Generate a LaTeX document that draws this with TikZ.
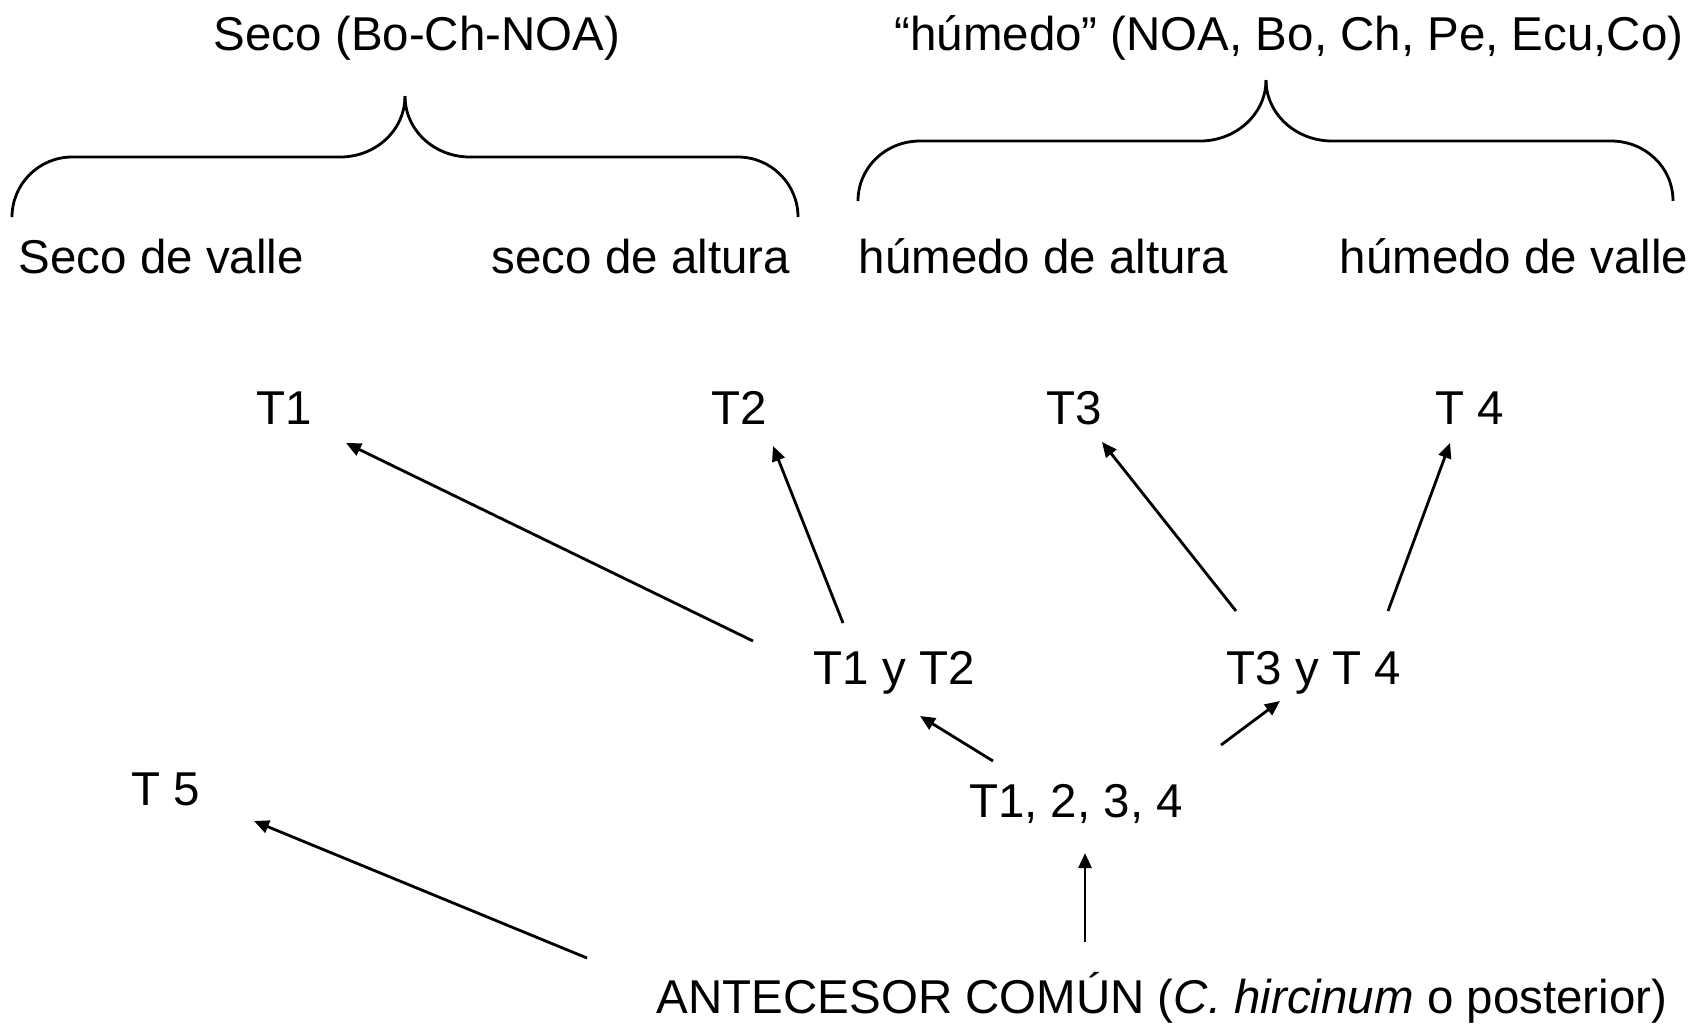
\documentclass[tikz,border=0pt]{standalone}
\usepackage{fontspec}
\setmainfont{Liberation Sans}
\usetikzlibrary{arrows.meta}
\begin{document}
\begin{tikzpicture}[x=0.01cm,y=-0.01cm,
  lbl/.style={font=\fontsize{13.5pt}{16pt}\selectfont, inner sep=0pt, anchor=base},
  lblw/.style={lbl, anchor=base west},
  arr/.style={line width=0.8pt, -{Triangle[length=0.15cm,width=0.13cm]}},
  bracepath/.style={line width=0.8pt, line join=round, line cap=butt}]
\useasboundingbox (0,0) rectangle (1704,1023);
% top labels
\node[lbl] (seco) at (417,50) {Seco (Bo-Ch-NOA)};
\node[lbl] (hum) at (1289,50) {“húmedo” (NOA, Bo, Ch, Pe, Ecu,Co)};
% braces
\draw[bracepath] (12,217) .. controls (12,184) and (39,157) .. (72,157) -- (340,157)
  .. controls (376,157) and (405,130) .. (405,96);
\draw[bracepath] (405,96) .. controls (405,130) and (434,157) .. (470,157) -- (738,157)
  .. controls (771,157) and (798,184) .. (798,217);
\draw[bracepath] (858,201) .. controls (858,167) and (886,141) .. (920,141) -- (1200,141)
  .. controls (1236,141) and (1266,114) .. (1266,80);
\draw[bracepath] (1266,80) .. controls (1266,114) and (1296,141) .. (1332,141) -- (1611,141)
  .. controls (1645,141) and (1673,167) .. (1673,201);
% second row labels
\node[lblw] (sv) at (18,273) {Seco de valle};
\node[lblw] (sa) at (491,273) {seco de altura};
\node[lblw] (ha) at (858,273) {húmedo de altura};
\node[lblw] (hv) at (1339,273) {húmedo de valle};
% tree nodes
\node[lbl] (t1) at (284,424) {T1};
\node[lbl] (t2) at (739,424) {T2};
\node[lbl] (t3) at (1074,424) {T3};
\node[lbl] (t4) at (1470,424) {T 4};
\node[lbl] (t12) at (894,684) {T1 y T2};
\node[lbl] (t34) at (1314,684) {T3 y T 4};
\node[lbl] (t1234) at (1076,817) {T1, 2, 3, 4};
\node[lbl] (t5) at (166,805) {T 5};
\node[lbl] (anc) at (1162,1013) {ANTECESOR COMÚN (\textit{C. hircinum} o posterior)};
% arrows
\draw[arr] ([shift={(-141,-43)}]t12.base) -- ([shift={(62,19)}]t1.base);
\draw[arr] ([shift={(-51,-61)}]t12.base) -- ([shift={(34,22)}]t2.base);
\draw[arr] ([shift={(-78,-73)}]t34.base) -- ([shift={(28,18)}]t3.base);
\draw[arr] ([shift={(74,-73)}]t34.base) -- ([shift={(-20,19)}]t4.base);
\draw[arr] ([shift={(-83,-56)}]t1234.base) -- ([shift={(26,32)}]t12.base);
\draw[arr] ([shift={(145,-72)}]t1234.base) -- ([shift={(-34,17)}]t34.base);
\draw[arr] ([shift={(-77,-71)}]anc.base) -- ([shift={(9,36)}]t1234.base);
\draw[arr] ([shift={(-575,-55)}]anc.base) -- ([shift={(88,16)}]t5.base);
\end{tikzpicture}
\end{document}
